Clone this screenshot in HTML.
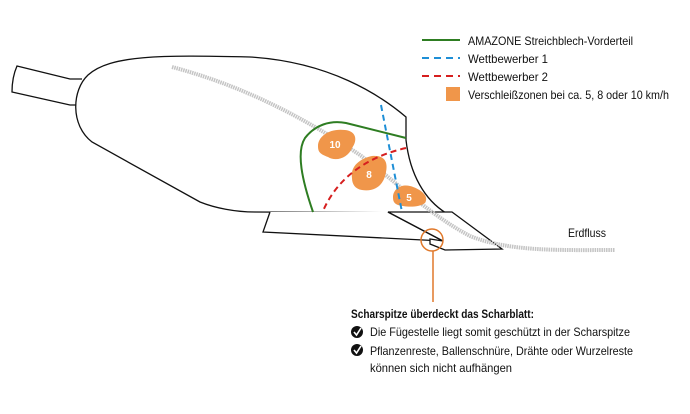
<!DOCTYPE html>
<html><head><meta charset="utf-8"><style>
html,body{margin:0;padding:0;background:#fff;}
svg{display:block;}
text{font-family:"Liberation Sans",sans-serif;font-size:12px;fill:#111;}
</style></head><body>
<svg width="690" height="414" viewBox="0 0 690 414" xmlns="http://www.w3.org/2000/svg">
<!-- handle -->
<path d="M82,79 L70,79 L17,66 C13,75 12,84 12,92 L70,105 L78,105" fill="#fff" stroke="#111" stroke-width="1.3"/>
<!-- body -->
<path d="M92,142 C70,125 72,90 88,75 C110,55 160,55 250,57 C330,62 380,95 406,117 L406,140 C410,175 425,200 446,213 L255,212 C235,212 215,208 200,202 Z" fill="#fff" stroke="#111" stroke-width="1.3"/>
<!-- share -->
<path d="M270,212 L263,232 L443,241 L388,212" fill="#fff" stroke="#111" stroke-width="1.3"/>
<path d="M446,212 L452,212 L502,249 L445,250 L430,244 L430,239 L443,241 L388,212 Z" fill="#fff" stroke="#111" stroke-width="1.3"/>
<!-- earth flow -->
<path d="M172,67 C240,85 300,115 360,155 C400,185 430,215 470,236 C510,252 560,250 615,250" fill="none" stroke="#c4c4c4" stroke-width="4" stroke-dasharray="1.5 0.8"/>
<!-- green -->
<path d="M406,138 L346,123 C330,120 315,125 305,138 C296,152 302,180 313,212" fill="none" stroke="#2e7d22" stroke-width="2"/>
<!-- blobs -->
<path d="M318,146 C318,136 330,128 345,130 C356,131 358,140 352,148 C348,158 336,162 328,157 C320,154 318,152 318,146 Z" fill="#f0964a"/>
<path d="M352,178 C350,165 362,158 372,156 C385,155 388,162 386,172 C384,185 375,192 362,190 C355,189 352,184 352,178 Z" fill="#f0964a"/>
<path d="M393,196 C394,188 402,184 410,186 C418,188 430,195 425,203 C418,208 405,207 398,205 C393,203 393,200 393,196 Z" fill="#f0964a"/>
<text x="335" y="148" text-anchor="middle" style="fill:#fff;font-size:10px;font-weight:bold">10</text>
<text x="369" y="178" text-anchor="middle" style="fill:#fff;font-size:10px;font-weight:bold">8</text>
<text x="409" y="201" text-anchor="middle" style="fill:#fff;font-size:10px;font-weight:bold">5</text>
<!-- blue dashed -->
<path d="M381,105 L402,212" fill="none" stroke="#1f8fd6" stroke-width="2" stroke-dasharray="6 4"/>
<!-- red dashed -->
<path d="M406,148 C375,155 340,172 323,211" fill="none" stroke="#d61f1f" stroke-width="2" stroke-dasharray="6 4"/>
<!-- circle and leader -->
<circle cx="432" cy="240" r="11" fill="none" stroke="#e0782a" stroke-width="1.5"/>
<line x1="433" y1="251" x2="433" y2="302" stroke="#e0782a" stroke-width="1.5"/>
<!-- legend -->
<line x1="422" y1="40" x2="460" y2="40" stroke="#2e7d22" stroke-width="2"/>
<line x1="422" y1="58" x2="460" y2="58" stroke="#1f8fd6" stroke-width="2" stroke-dasharray="7 5"/>
<line x1="422" y1="76" x2="460" y2="76" stroke="#d61f1f" stroke-width="2" stroke-dasharray="7 5"/>
<rect x="446" y="87" width="14" height="14" fill="#f0964a"/>
<text x="468" y="45" textLength="165" lengthAdjust="spacingAndGlyphs">AMAZONE Streichblech-Vorderteil</text>
<text x="468" y="63" textLength="80" lengthAdjust="spacingAndGlyphs">Wettbewerber 1</text>
<text x="468" y="81" textLength="80" lengthAdjust="spacingAndGlyphs">Wettbewerber 2</text>
<text x="468" y="99" textLength="201" lengthAdjust="spacingAndGlyphs">Verschleißzonen bei ca. 5, 8 oder 10 km/h</text>
<text x="568" y="237" textLength="38" lengthAdjust="spacingAndGlyphs">Erdfluss</text>
<!-- bottom text -->
<text x="351" y="318" textLength="183" lengthAdjust="spacingAndGlyphs" style="font-weight:bold">Scharspitze überdeckt das Scharblatt:</text>
<circle cx="357" cy="332" r="6" fill="#111"/>
<path d="M354,332 L356.5,335 L361,328" fill="none" stroke="#fff" stroke-width="1.6"/>
<text x="370" y="336" textLength="260" lengthAdjust="spacingAndGlyphs">Die Fügestelle liegt somit geschützt in der Scharspitze</text>
<circle cx="357" cy="350" r="6" fill="#111"/>
<path d="M354,350 L356.5,353 L361,346" fill="none" stroke="#fff" stroke-width="1.6"/>
<text x="370" y="355" textLength="263" lengthAdjust="spacingAndGlyphs">Pflanzenreste, Ballenschnüre, Drähte oder Wurzelreste</text>
<text x="370" y="372" textLength="142" lengthAdjust="spacingAndGlyphs">können sich nicht aufhängen</text>
</svg>
</body></html>
